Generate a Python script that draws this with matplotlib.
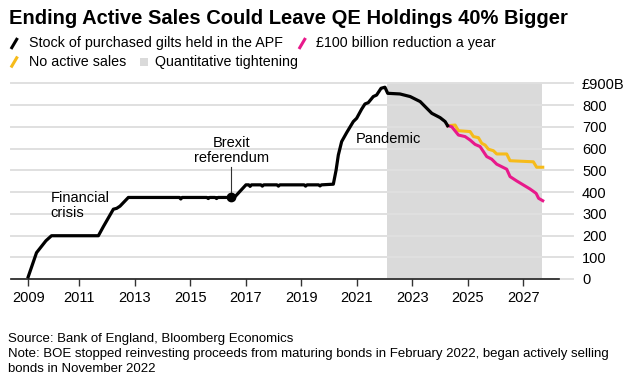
import matplotlib
matplotlib.use("Agg")
import matplotlib.pyplot as plt
from matplotlib.lines import Line2D
from matplotlib.patches import Rectangle

plt.rcParams['font.family'] = ['Liberation Sans', 'DejaVu Sans']

# Stock of purchased gilts held in the APF (GBP bn)
black_x = [2009.16, 2009.46, 2009.80, 2010.00, 2011.69, 2011.87, 2012.23, 2012.35, 2012.47, 2012.77,
           2014.61, 2014.66, 2014.71, 2015.60, 2015.65, 2015.70, 2015.90, 2015.95, 2016.00, 2016.48,
           2016.62, 2017.01, 2017.11, 2017.16, 2017.21, 2017.55, 2017.60, 2017.65, 2018.13, 2018.18,
           2018.23, 2019.11, 2019.16, 2019.21, 2019.63, 2019.68, 2019.73, 2020.16, 2020.26, 2020.34,
           2020.46, 2020.64, 2020.88, 2021.00, 2021.18, 2021.30, 2021.42, 2021.60, 2021.72, 2021.88,
           2022.02, 2022.12, 2022.56, 2022.93, 2023.29, 2023.53, 2023.71, 2024.01, 2024.19, 2024.28]
black_y = [10, 121, 176, 199, 199, 241, 321, 325, 335, 375,
           375, 368, 375, 375, 370, 375, 375, 370, 375, 375,
           379, 433, 433, 426, 433, 433, 427, 433, 433, 427,
           433, 433, 427, 433, 433, 428, 433, 436, 501, 570,
           632, 673, 724, 739, 781, 805, 811, 839, 846, 877,
           882, 854, 851, 839, 816, 785, 762, 742, 724, 705]

# £100 billion reduction a year
pink_x = [2024.28, 2024.43, 2024.67, 2024.91, 2025.09, 2025.27, 2025.45, 2025.57, 2025.69,
          2025.87, 2026.05, 2026.41, 2026.53, 2026.77, 2027.25, 2027.47, 2027.56, 2027.71]
pink_y = [705, 700, 662, 655, 639, 619, 609, 586, 563, 551, 528, 505, 471, 451, 414, 394, 371, 360]

# No active sales
yellow_x = [2024.28, 2024.55, 2024.67, 2025.09, 2025.21, 2025.39, 2025.51, 2025.63, 2025.75,
            2025.93, 2026.05, 2026.41, 2026.53, 2027.37, 2027.49, 2027.71]
yellow_y = [705, 708, 682, 678, 655, 650, 624, 616, 597, 590, 575, 575, 544, 539, 514, 514]

qt_span = (2022.11, 2027.69)
brexit = (2016.48, 375)

year_ticks = [2009.16, 2011, 2013, 2015, 2017, 2019, 2021, 2023, 2025, 2027]
year_labels = ['2009', '2011', '2013', '2015', '2017', '2019', '2021', '2023', '2025', '2027']
y_ticks = [0, 100, 200, 300, 400, 500, 600, 700, 800, 900]
y_labels = ['0', '100', '200', '300', '400', '500', '600', '700', '800', '£900B']

BLACK = '#000000'
PINK = '#e8198b'
YELLOW = '#f6bb1a'
SHADE = '#dadada'
GRID = '#e0e0e0'

W, H = 642, 385
fig = plt.figure(figsize=(W / 100, H / 100), dpi=100)


def px(x, y):
    return x / W, 1 - y / H


ax = fig.add_axes([11 / W, (H - 279) / H, (573 - 11) / W, (279 - 83.3) / H])
x0, x1 = 2008.54, 2028.80
ax.set_xlim(x0, x1)
ax.set_ylim(0, 900)

ax.axvspan(*qt_span, color=SHADE, lw=0, zorder=0.2)
for v in y_ticks:
    ax.axhline(v, color=GRID, lw=1.4, zorder=0.6, clip_on=False)
ax.axhline(0, xmin=0, xmax=(2028.30 - x0) / (x1 - x0), color='#222222', lw=1.2, zorder=3, clip_on=False)

ax.plot(yellow_x, yellow_y, color=YELLOW, lw=2.2, solid_joinstyle='round', zorder=4, clip_on=False)
ax.plot(pink_x, pink_y, color=PINK, lw=2.2, solid_joinstyle='round', zorder=5, clip_on=False)
ax.plot(black_x, black_y, color=BLACK, lw=2.3, solid_joinstyle='round', zorder=6, clip_on=False)

# annotations
ax.plot([brexit[0], brexit[0]], [515, brexit[1]], color='#333333', lw=0.8, zorder=5)
ax.plot(*brexit, 'o', color=BLACK, ms=6, zorder=7)
ax.text(brexit[0], 592, 'Brexit\nreferendum', ha='center', va='center', fontsize=10.5, linespacing=1.1)
ax.text(2009.97, 336, 'Financial\ncrisis', ha='left', va='center', fontsize=10.5, linespacing=1.1)
ax.text(2020.98, 643, 'Pandemic', ha='left', va='center', fontsize=10.5, zorder=8)

for s in ax.spines.values():
    s.set_visible(False)
ax.set_xticks(year_ticks)
ax.set_xticklabels(year_labels)
ax.tick_params(axis='x', length=5, width=1, color='#333333', pad=4, labelsize=10.5)
ax.yaxis.tick_right()
ax.set_yticks(y_ticks)
ax.set_yticklabels(y_labels)
ax.tick_params(axis='y', length=0, pad=6.5, labelsize=10.5)
for lab in ax.get_yticklabels():
    lab.set_horizontalalignment('left')

# title
fig.text(*px(9, 18.5), 'Ending Active Sales Could Leave QE Holdings 40% Bigger',
         fontsize=14.5, fontweight='bold', va='center', ha='left')

# legend
def legend_line(x, y, color):
    fig.add_artist(Line2D([x / W, (x + 6.5) / W], [1 - (y + 5.5) / H, 1 - (y - 5.5) / H],
                          color=color, lw=2.2, solid_capstyle='butt'))

legend_line(11, 43.5, BLACK)
fig.text(*px(29.3, 43.5), 'Stock of purchased gilts held in the APF', fontsize=10.3, va='center')
legend_line(299, 43.5, PINK)
fig.text(*px(316.3, 43.5), '£100 billion reduction a year', fontsize=10.3, va='center')
legend_line(11, 62, YELLOW)
fig.text(*px(29.3, 62), 'No active sales', fontsize=10.3, va='center')
fig.add_artist(Rectangle(px(140, 66), 8 / W, 8 / H, color=SHADE, lw=0))
fig.text(*px(155, 62), 'Quantitative tightening', fontsize=10.3, va='center')

# footer
fig.text(*px(8.3, 339), 'Source: Bank of England, Bloomberg Economics', fontsize=9.5, va='center')
fig.text(*px(8.3, 354.3), 'Note: BOE stopped reinvesting proceeds from maturing bonds in February 2022, '
         'began actively selling', fontsize=9.5, va='center')
fig.text(*px(8.3, 368.5), 'bonds in November 2022', fontsize=9.5, va='center')

fig.savefig('out.png', dpi=100, facecolor='white')
